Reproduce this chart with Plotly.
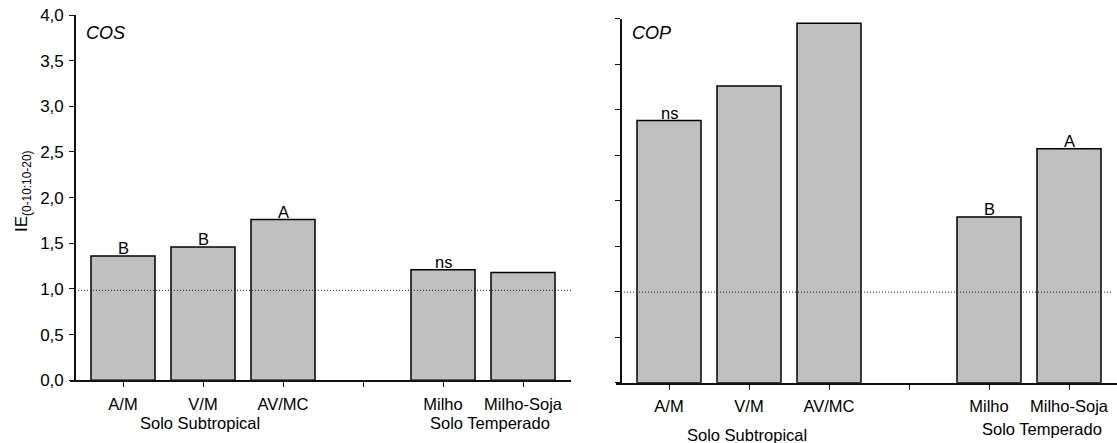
import plotly.graph_objects as go

W, H = 1117, 443

categories = ['A/M', 'V/M', 'AV/MC', '', 'Milho', 'Milho-Soja']
cos_values = [1.36, 1.46, 1.76, None, 1.21, 1.18]
cop_values = [2.88, 3.26, 3.95, None, 1.82, 2.57]
cos_letters = ['B', 'B', 'A', '', 'ns', '']
cop_letters = ['ns', '', '', '', 'B', 'A']
ref_cos = 0.985
ref_cop = 0.995
y_ticks = [0, 0.5, 1.0, 1.5, 2.0, 2.5, 3.0, 3.5, 4.0]

pos = list(range(len(categories)))
label_pos = [p for p, c in zip(pos, categories) if c]
label_txt = [c for c in categories if c]


def px(x):
    return x / W


def py(y):
    return 1 - y / H


FONT = 'Liberation Sans, Arial, sans-serif'
BAR_FILL = '#c0c0c0'

fig = go.Figure()
fig.add_trace(go.Bar(x=pos, y=cos_values, width=0.8, marker=dict(color=BAR_FILL, line=dict(color='black', width=1.5)),
                     xaxis='x', yaxis='y', showlegend=False, hoverinfo='skip'))
fig.add_trace(go.Bar(x=pos, y=cop_values, width=0.8, marker=dict(color=BAR_FILL, line=dict(color='black', width=1.5)),
                     xaxis='x2', yaxis='y2', showlegend=False, hoverinfo='skip'))

axis_common = dict(showgrid=False, zeroline=False, showline=True, linecolor='#111', linewidth=1.6,
                   ticks='outside', ticklen=5, tickwidth=1.2, tickcolor='#111', automargin=False)
x_minor = dict(ticks='outside', ticklen=5, tickwidth=1.2, tickcolor='#111', tick0=0, dtick=1, showgrid=False)

fig.update_layout(
    width=W, height=H,
    margin=dict(l=0, r=0, t=0, b=0, autoexpand=False),
    paper_bgcolor='white', plot_bgcolor='white',
    separators=',.',
    font=dict(family=FONT, size=16, color='black'),
    bargap=0.2,
    xaxis=dict(domain=[px(70), px(570.7)], range=[-0.6625, 5.596], tickvals=label_pos, ticktext=label_txt,
               anchor='y', ticklabelstandoff=3, minor=x_minor,
               tickfont=dict(family=FONT, size=16.5, color='black'), **axis_common),
    yaxis=dict(domain=[py(380.3), py(15)], range=[0, 4], tickvals=y_ticks, tickformat='.1f',
               anchor='free', position=px(75), ticklabelstandoff=2,
               tickfont=dict(family=FONT, size=17, color='black'), **axis_common),
    xaxis2=dict(domain=[px(616), 1.0], range=[-0.6625, 5.6], tickvals=label_pos, ticktext=label_txt,
                anchor='y2', ticklabelstandoff=3, minor=x_minor,
                tickfont=dict(family=FONT, size=16.5, color='black'), **axis_common),
    yaxis2=dict(domain=[py(382.7), py(18.7)], range=[0, 4], tickvals=y_ticks, showticklabels=False,
                anchor='free', position=px(620.7), **axis_common),
)

# reference dotted lines
fig.add_shape(type='line', xref='paper', yref='y', x0=px(75), x1=px(572), y0=ref_cos, y1=ref_cos,
              line=dict(color='#222', width=1, dash='1px,2px'))
fig.add_shape(type='line', xref='paper', yref='y2', x0=px(621), x1=px(1113), y0=ref_cop, y1=ref_cop,
              line=dict(color='#222', width=1, dash='1px,2px'))

ann = []
for p, v, t in zip(pos, cos_values, cos_letters):
    if t and v is not None:
        ann.append(dict(x=p, y=v, xref='x', yref='y', text=t, showarrow=False, yanchor='bottom',
                        yshift=-3, font=dict(size=16.5)))
for p, v, t in zip(pos, cop_values, cop_letters):
    if t and v is not None:
        ann.append(dict(x=p, y=v, xref='x2', yref='y2', text=t, showarrow=False, yanchor='bottom',
                        yshift=-3, font=dict(size=16.5)))

# panel titles
ann.append(dict(x=px(84), y=py(33), xref='paper', yref='paper', text='<i>COS</i>', showarrow=False,
                xanchor='left', yanchor='middle', font=dict(size=18)))
ann.append(dict(x=px(630), y=py(33), xref='paper', yref='paper', text='<i>COP</i>', showarrow=False,
                xanchor='left', yanchor='middle', font=dict(size=18)))

# y title
ann.append(dict(x=px(23), y=py(191), xref='paper', yref='paper', text='IE<sub>(0-10:10-20)</sub>',
                showarrow=False, textangle=-90, xanchor='center', yanchor='middle', font=dict(size=17)))

# group labels
ann.append(dict(x=px(200), y=py(423), xref='paper', yref='paper', text='Solo Subtropical', showarrow=False,
                xanchor='center', yanchor='middle', font=dict(size=16.5)))
ann.append(dict(x=px(490), y=py(423), xref='paper', yref='paper', text='Solo Temperado', showarrow=False,
                xanchor='center', yanchor='middle', font=dict(size=16.5)))
ann.append(dict(x=px(747), y=py(435), xref='paper', yref='paper', text='Solo Subtropical', showarrow=False,
                xanchor='center', yanchor='middle', font=dict(size=16.5)))
ann.append(dict(x=px(1042), y=py(429), xref='paper', yref='paper', text='Solo Temperado', showarrow=False,
                xanchor='center', yanchor='middle', font=dict(size=16.5)))

fig.update_layout(annotations=ann)
fig.write_html('out.html')
